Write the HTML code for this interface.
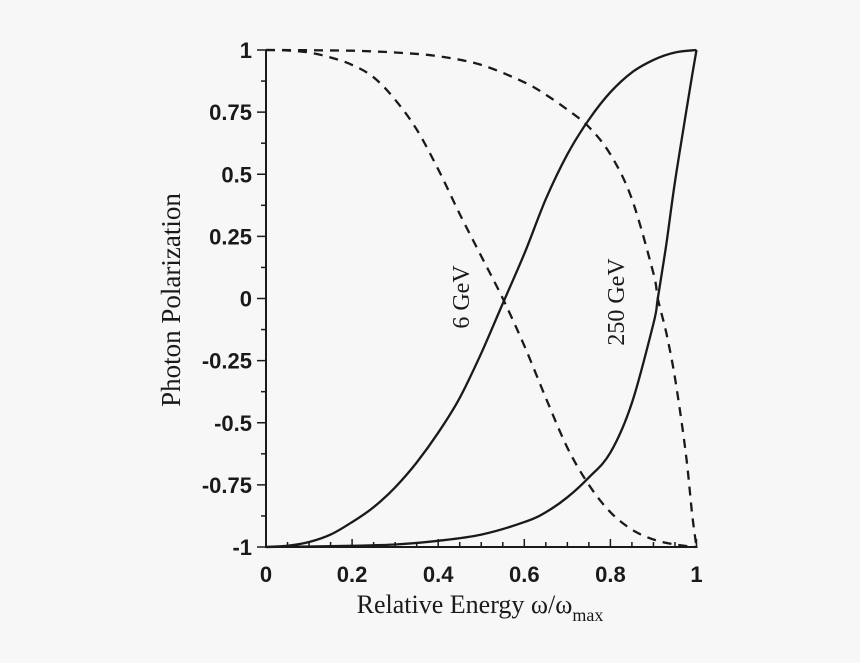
<!DOCTYPE html>
<html><head><meta charset="utf-8"><style>
body{margin:0;background:#f7f7f7}
svg{display:block}
.t{font-family:"Liberation Sans",sans-serif;font-weight:bold;font-size:22px;fill:#1a1a1a}
.s{font-family:"Liberation Serif",serif;font-size:26px;fill:#1a1a1a}
</style></head><body>
<svg id="c" width="860" height="663">
<rect width="860" height="663" fill="#f7f7f7"/>
</svg>
<script>
const xTicks=[0,0.2,0.4,0.6,0.8,1];
const xTickLabels=["0","0.2","0.4","0.6","0.8","1"];
const yTicks=[1,0.75,0.5,0.25,0,-0.25,-0.5,-0.75,-1];
const yTickLabels=["1","0.75","0.5","0.25","0","-0.25","-0.5","-0.75","-1"];
const xs6=[0,0.05,0.1,0.15,0.2,0.25,0.3,0.35,0.4,0.45,0.5,0.55,0.6,0.65,0.7,0.75,0.8,0.85,0.9,0.95,1];
const solid6=[-1,-0.995,-0.98,-0.95,-0.9,-0.84,-0.76,-0.66,-0.54,-0.4,-0.22,-0.02,0.18,0.4,0.58,0.72,0.83,0.91,0.96,0.99,1];
const dashed6=[1,0.998,0.99,0.97,0.94,0.89,0.8,0.68,0.52,0.34,0.17,0,-0.19,-0.4,-0.6,-0.75,-0.86,-0.93,-0.97,-0.99,-1];
const xs250=[0,0.1,0.2,0.3,0.4,0.5,0.6,0.65,0.7,0.75,0.8,0.85,0.9,0.91,0.93,0.95,0.975,0.99,1];
const solid250=[-1,-0.998,-0.995,-0.99,-0.975,-0.95,-0.9,-0.86,-0.8,-0.72,-0.62,-0.42,-0.1,0,0.22,0.47,0.74,0.9,1];
const dashed250=[1,0.999,0.997,0.99,0.975,0.94,0.87,0.82,0.76,0.69,0.58,0.4,0.1,0,-0.14,-0.32,-0.62,-0.87,-1];
const NS="http://www.w3.org/2000/svg";
const svg=document.getElementById('c');
const X0=266,X1=696.5,Y1=50,Ym=547;
const sx=v=>X0+(X1-X0)*v;
const sy=v=>Ym-(Ym-Y1)*(v+1)/2;
function mk(t,a){const e=document.createElementNS(NS,t);for(const k in a)e.setAttribute(k,a[k]);svg.appendChild(e);return e;}
let e;
e=mk('line',{x1:X0,y1:Y1,x2:X0,y2:Ym,stroke:'#1a1a1a','stroke-width':2});


e=mk('line',{x1:X0-1,y1:Ym,x2:X1+1,y2:Ym,stroke:'#1a1a1a','stroke-width':2});


for(let i=0;i<=20;i++){const v=i/20;const L=(i%4==0)?8:5;
e=mk('line',{x1:sx(v),y1:Ym,x2:sx(v),y2:Ym-L,stroke:'#1a1a1a','stroke-width':1.5});

}
for(let i=0;i<=16;i++){const v=-1+i/8;const L=(i%2==0)?9:5;
e=mk('line',{x1:X0-L,y1:sy(v),x2:X0,y2:sy(v),stroke:'#1a1a1a','stroke-width':1.5});

}
xTicks.forEach((v,i)=>{e=mk('text',{x:sx(v),y:582,'text-anchor':'middle',class:'t'});e.textContent=xTickLabels[i];

});
yTicks.forEach((v,i)=>{e=mk('text',{x:252,y:sy(v)+8,'text-anchor':'end',class:'t'});e.textContent=yTickLabels[i];

});
function path(xs,ys,dash,name){
const P=xs.map((x,i)=>[sx(x),sy(ys[i])]);
let d='M'+P[0][0].toFixed(1)+','+P[0][1].toFixed(1);
for(let i=0;i<P.length-1;i++){const p0=P[Math.max(0,i-1)],p1=P[i],p2=P[i+1],p3=P[Math.min(P.length-1,i+2)];
const c1=[p1[0]+(p2[0]-p0[0])/6,p1[1]+(p2[1]-p0[1])/6],c2=[p2[0]-(p3[0]-p1[0])/6,p2[1]-(p3[1]-p1[1])/6];
d+='C'+c1.map(v=>v.toFixed(1)).join(',')+' '+c2.map(v=>v.toFixed(1)).join(',')+' '+p2.map(v=>v.toFixed(1)).join(',');}
const p=mk('path',{d:d,fill:'none',stroke:'#1a1a1a','stroke-width':2.3,'stroke-linejoin':'round'});
if(dash)p.setAttribute('stroke-dasharray','9,7');

}
path(xs6,solid6,false,'series-6gev-solid');
path(xs6,dashed6,true,'series-6gev-dashed');
path(xs250,solid250,false,'series-250gev-solid');
path(xs250,dashed250,true,'series-250gev-dashed');
e=mk('text',{x:0,y:0,'text-anchor':'middle',class:'s','font-size':24,style:'font-size:24px',transform:'translate(469,297) rotate(-90)'});e.textContent='6 GeV';


e=mk('text',{x:0,y:0,'text-anchor':'middle',class:'s',style:'font-size:24px',transform:'translate(624,302) rotate(-90)'});e.textContent='250 GeV';


e=mk('text',{x:0,y:0,'text-anchor':'middle',class:'s',style:'font-size:27px',transform:'translate(180,300) rotate(-90)'});e.textContent='Photon Polarization';


e=mk('text',{x:480,y:613,'text-anchor':'middle',class:'s'});
e.innerHTML='Relative Energy ω/ω<tspan style="font-size:18px" dy="8">max</tspan>';


</script>
</body></html>
